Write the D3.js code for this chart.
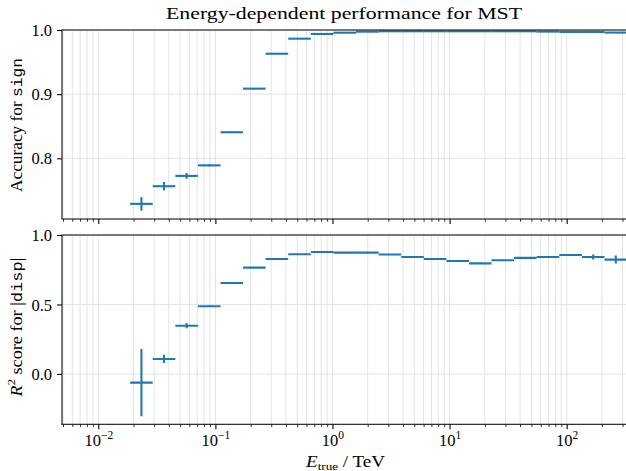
<!DOCTYPE html>
<html><head><meta charset="utf-8">
<script src="https://cdn.jsdelivr.net/npm/d3@7"></script>
<style>
html,body{margin:0;padding:0;background:#fff;overflow:hidden;}
</style></head>
<body>
<svg id="c" width="626" height="471"></svg>
<script>
// ---- data ----
const binEdgesTeV = [0.01871, 0.02917, 0.04550, 0.07096, 0.1107, 0.1722, 0.2685, 0.4188, 0.6531, 1.019, 1.589, 2.477, 3.864, 6.026, 9.397, 14.66, 22.80, 35.56, 55.46, 86.50, 134.9, 210.4, 328.1];
const accuracySign = [0.729, 0.7565, 0.7726, 0.789, 0.8406, 0.9086, 0.963, 0.9865, 0.9938, 0.9958, 0.9974, 0.998, 0.998, 0.998, 0.998, 0.998, 0.998, 0.998, 0.9975, 0.997, 0.997, 0.996];
const accuracySignErr = [0.0104, 0.0065, 0.0045, 0.0015, 0.001, 0.0007, 0.0005, 0.0004, 0.0003, 0.0003, 0.0003, 0.0003, 0.0003, 0.0003, 0.0003, 0.0003, 0.0003, 0.0003, 0.0004, 0.0005, 0.0006, 0.0008];
const r2Disp = [-0.0624, 0.108, 0.347, 0.487, 0.655, 0.765, 0.827, 0.861, 0.878, 0.873, 0.873, 0.860, 0.842, 0.827, 0.813, 0.796, 0.818, 0.835, 0.842, 0.856, 0.842, 0.823];
const r2DispErr = [0.2425, 0.03, 0.019, 0.005, 0.003, 0.003, 0.003, 0.003, 0.003, 0.003, 0.003, 0.003, 0.003, 0.003, 0.003, 0.004, 0.004, 0.005, 0.006, 0.006, 0.018, 0.029];
const xMajorTicks = [0.01, 0.1, 1, 10, 100];
const xTickExponents = ["−2", "−1", "0", "1", "2"];
const topYTicks = [0.8, 0.9, 1.0];
const bottomYTicks = [0.0, 0.5, 1.0];
const xLimits = [0.0049, 334];
const topYLimits = [0.7054, 1.0];
const bottomYLimits = [-0.3625, 1.0];

// ---- layout ----
const SERIF = '"Liberation Serif"';
const MONO = '"Liberation Mono"';
const svg = d3.select("#c");
const L = 62, R = 628;
const topP = {y0: 30, y1: 219};
const botP = {y0: 235, y1: 424.3};
const blue = "#1f77b4";
const gridCol = "#e3e3e3";

const x = d3.scaleLog().domain(xLimits).range([L, R]);
const yTop = d3.scaleLinear().domain(topYLimits).range([topP.y1, topP.y0]);
const yBot = d3.scaleLinear().domain(bottomYLimits).range([botP.y1, botP.y0]);

const minorTicks = [];
for (let e = -3; e <= 2; e++) for (let m = 2; m <= 9; m++) {
  const v = m * Math.pow(10, e);
  if (v >= xLimits[0] && v <= xLimits[1]) minorTicks.push(v);
}

const bins = accuracySign.map((d, i) => ({
  lo: binEdgesTeV[i], hi: binEdgesTeV[i + 1],
  c: Math.sqrt(binEdgesTeV[i] * binEdgesTeV[i + 1])
}));

function panel(p, y, yTicks, vals, errs, showXLabels, clipId) {
  const g = svg.append("g");
  g.append("clipPath").attr("id", clipId).append("rect")
    .attr("x", L).attr("y", p.y0).attr("width", R - L).attr("height", p.y1 - p.y0);
  const grid = g.append("g").attr("clip-path", `url(#${clipId})`);
  grid.selectAll("line.vmin").data(minorTicks).join("line")
    .attr("x1", d => x(d)).attr("x2", d => x(d)).attr("y1", p.y0).attr("y2", p.y1)
    .attr("stroke", gridCol).attr("stroke-width", 1);
  grid.selectAll("line.vmaj").data(xMajorTicks).join("line")
    .attr("x1", d => x(d)).attr("x2", d => x(d)).attr("y1", p.y0).attr("y2", p.y1)
    .attr("stroke", gridCol).attr("stroke-width", 1);
  grid.selectAll("line.h").data(yTicks).join("line")
    .attr("x1", L).attr("x2", R).attr("y1", d => y(d)).attr("y2", d => y(d))
    .attr("stroke", gridCol).attr("stroke-width", 1);

  const eb = g.append("g").attr("clip-path", `url(#${clipId})`);
  eb.selectAll("line.xe").data(bins).join("line")
    .attr("x1", d => x(d.lo)).attr("x2", d => x(d.hi))
    .attr("y1", (d, i) => y(vals[i])).attr("y2", (d, i) => y(vals[i]))
    .attr("stroke", blue).attr("stroke-width", 2.1);
  eb.selectAll("line.ye").data(bins).join("line")
    .attr("x1", d => x(d.c)).attr("x2", d => x(d.c))
    .attr("y1", (d, i) => y(vals[i] - errs[i])).attr("y2", (d, i) => y(vals[i] + errs[i]))
    .attr("stroke", blue).attr("stroke-width", 2.1);

  const xAx = d3.axisBottom(x).tickValues(xMajorTicks).tickSize(4.9).tickFormat("");
  const xg = g.append("g").attr("transform", `translate(0,${p.y1})`).call(xAx);
  xg.select(".domain").remove();
  xg.selectAll(".tick line").attr("stroke", "#000").attr("stroke-width", 1.1);
  const xm = g.append("g").attr("transform", `translate(0,${p.y1})`)
    .call(d3.axisBottom(x).tickValues(minorTicks).tickSize(2.8).tickFormat(""));
  xm.select(".domain").remove();
  xm.selectAll(".tick line").attr("stroke", "#000").attr("stroke-width", 0.8);

  if (showXLabels) {
    xg.selectAll(".tick").each(function (d, i) {
      const t = d3.select(this).append("text")
        .attr("y", 22).attr("text-anchor", "middle").attr("fill", "#000")
        .style("font-family", SERIF).style("font-size", "16.5px");
      t.append("tspan").text("10");
      t.append("tspan").attr("dy", -7).style("font-size", "11.5px").text(xTickExponents[i]);
    });
  }

  const yAx = d3.axisLeft(y).tickValues(yTicks).tickSize(4.9).tickPadding(5).tickFormat(d3.format(".1f"));
  const yg = g.append("g").attr("transform", `translate(${L},0)`).call(yAx);
  yg.select(".domain").remove();
  yg.selectAll(".tick line").attr("stroke", "#000").attr("stroke-width", 1.1);
  yg.selectAll(".tick text").style("font-family", SERIF).style("font-size", "16.5px").attr("fill", "#000").attr("dy", "0.34em");

  g.append("rect").attr("x", L).attr("y", p.y0).attr("width", R - L).attr("height", p.y1 - p.y0)
    .attr("fill", "none").attr("stroke", "#111").attr("stroke-width", 1.1);
}

panel(topP, yTop, topYTicks, accuracySign, accuracySignErr, false, "cTop");
panel(botP, yBot, bottomYTicks, r2Disp, r2DispErr, true, "cBot");

// title
svg.append("text").attr("x", 344).attr("y", 18.5).attr("text-anchor", "middle")
  .style("font-family", SERIF).style("font-size", "17.5px")
  .attr("textLength", 356).attr("lengthAdjust", "spacingAndGlyphs")
  .text("Energy-dependent performance for MST");

// y label top
const yl1 = svg.append("text")
  .attr("transform", `translate(22,125) rotate(-90)`)
  .attr("text-anchor", "middle").style("font-family", SERIF).style("font-size", "16px")
  .attr("textLength", 134).attr("lengthAdjust", "spacingAndGlyphs");
yl1.append("tspan").text("Accuracy for ");
yl1.append("tspan").style("font-family", MONO).style("font-size", "15px").text("sign");

// y label bottom
const yl2 = svg.append("text")
  .attr("transform", `translate(22,327) rotate(-90)`)
  .attr("text-anchor", "middle").style("font-family", SERIF).style("font-size", "16px")
  .attr("textLength", 139).attr("lengthAdjust", "spacingAndGlyphs");
yl2.append("tspan").style("font-style", "italic").text("R");
yl2.append("tspan").attr("dy", -7).style("font-size", "11px").text("2");
yl2.append("tspan").attr("dy", 7).text(" score for |");
yl2.append("tspan").style("font-family", MONO).style("font-size", "15px").text("disp");
yl2.append("tspan").text("|");

// x label
const xl = svg.append("text").attr("x", 345.5).attr("y", 467).attr("text-anchor", "middle")
  .style("font-family", SERIF).style("font-size", "16px")
  .attr("textLength", 79).attr("lengthAdjust", "spacingAndGlyphs");
xl.append("tspan").style("font-style", "italic").text("E");
xl.append("tspan").attr("dy", 3).style("font-size", "11px").text("true");
xl.append("tspan").attr("dy", -3).text(" / TeV");
</script>
</body></html>
